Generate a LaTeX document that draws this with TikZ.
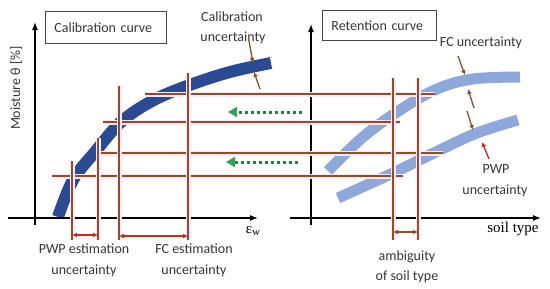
\documentclass[tikz,border=0pt]{standalone}
\usepackage{fontspec}
\setmainfont{Carlito}
\newfontfamily\seriffont{Liberation Serif}
\usetikzlibrary{arrows.meta}
\definecolor{navyc}{RGB}{44,74,148}
\definecolor{lightc}{RGB}{142,168,220}
\definecolor{brownc}{RGB}{140,80,40}
\definecolor{redc}{RGB}{195,45,25}
\definecolor{greenc}{RGB}{35,130,65}
\definecolor{greentip}{RGB}{55,160,90}
\definecolor{halo}{RGB}{255,230,248}
\definecolor{txt}{RGB}{55,55,55}
\definecolor{boxc}{RGB}{70,70,70}
\tikzset{
  lbl/.style={font=\fontsize{14}{16}\selectfont, text=txt, inner sep=0pt},
  serlbl/.style={font=\seriffont\fontsize{15}{17}\selectfont, text=black, inner sep=0pt},
  titlebox/.style={draw=boxc, line width=0.8pt, minimum height=32pt, font=\fontsize{14}{16}\selectfont, text=txt, align=left, inner xsep=9pt},
  axis/.style={black, line width=1.3pt, -{Latex[length=8pt,width=6pt]}},
  guide/.style={brownc, line width=1.2pt, preaction={draw=halo, line width=5pt}},
  dblarrow/.style={line width=1.3pt, {Latex[length=5pt,width=5pt]}-{Latex[length=5pt,width=5pt]}},
  uarrow/.style={line width=1.3pt, -{Latex[length=5pt,width=5pt]}},
  greenarrow/.style={greenc, line width=3pt, dash pattern=on 3pt off 3pt, -{Triangle[length=9pt,width=10pt,fill=greentip,color=greentip]}},
}
\begin{document}
\begin{tikzpicture}[x=1pt,y=-1pt]
\useasboundingbox (0,0) rectangle (550,289);

% ---------- coordinates ----------
\coordinate (lyb) at (35,225); \coordinate (lyt) at (35,22);
\coordinate (lxl) at (8,218);  \coordinate (lxr) at (258,218);
\coordinate (ryb) at (311,225); \coordinate (ryt) at (311,24);
\coordinate (rxl) at (290,218); \coordinate (rxr) at (541,218);

\coordinate (h1a) at (145,94);  \coordinate (h1b) at (435,94);
\coordinate (h2a) at (103,122); \coordinate (h2b) at (400,122);
\coordinate (h3a) at (97,153);  \coordinate (h3b) at (443,153);
\coordinate (h4a) at (52,176);  \coordinate (h4b) at (403,176);

\coordinate (v1a) at (72,161);  \coordinate (v1b) at (72,240);
\coordinate (v2a) at (98,138);  \coordinate (v2b) at (98,240);
\coordinate (v3a) at (119,86);  \coordinate (v3b) at (119,240);
\coordinate (v4a) at (188,73);  \coordinate (v4b) at (188,240);
\coordinate (v5a) at (393,78);  \coordinate (v5b) at (393,240);
\coordinate (v6a) at (418,78);  \coordinate (v6b) at (418,240);

% ---------- curves ----------
\draw[navyc, line width=12pt] plot[smooth, tension=0.6] coordinates
  {(58,217) (73,180) (95,152) (121,122) (152,101) (187,86) (230,72) (271,63)};
\draw[lightc, line width=11pt] plot[smooth, tension=0.6] coordinates
  {(328,171) (363,137) (400,110) (437,89) (473,79) (520,77)};
\draw[lightc, line width=11pt] plot[smooth, tension=0.6] coordinates
  {(338,198) (393,173) (440,150) (477,133) (518,120)};

% ---------- axes ----------
\draw[axis] (lyb) -- (lyt);
\draw[axis] (lxl) -- (lxr);
\draw[axis] (ryb) -- (ryt);
\draw[axis] (rxl) -- (rxr);

% ---------- guide lines ----------
\draw[guide] (h1a) -- (h1b);
\draw[guide] (h2a) -- (h2b);
\draw[guide] (h3a) -- (h3b);
\draw[guide] (h4a) -- (h4b);
\draw[guide] (v1a) -- (v1b);
\draw[guide] (v2a) -- (v2b);
\draw[guide] (v3a) -- (v3b);
\draw[guide] (v4a) -- (v4b);
\draw[guide] (v5a) -- (v5b);
\draw[guide] (v6a) -- (v6b);

% ---------- double arrows ----------
\coordinate (pa) at (72,235);  \coordinate (pb) at (98,235);
\coordinate (fa) at (119,236); \coordinate (fb) at (188,236);
\coordinate (aa) at (393,232); \coordinate (ab) at (418,232);
\draw[dblarrow, redc] (pa) -- (pb);
\draw[dblarrow, redc] (fa) -- (fb);
\draw[dblarrow, brownc] (aa) -- (ab);

% ---------- uncertainty arrows ----------
\coordinate (c1a) at (249,41);  \coordinate (c1b) at (253,63);
\coordinate (c2a) at (260,89);  \coordinate (c2b) at (254,72);
\coordinate (f1a) at (458,56);  \coordinate (f1b) at (465,75);
\coordinate (f2a) at (474,108); \coordinate (f2b) at (468,89);
\coordinate (f3a) at (467,111); \coordinate (f3b) at (473,130);
\coordinate (p1a) at (489,159); \coordinate (p1b) at (482,142);
\draw[uarrow, brownc] (c1a) -- (c1b);
\draw[uarrow, brownc] (c2a) -- (c2b);
\draw[uarrow, brownc] (f1a) -- (f1b);
\draw[uarrow, brownc] (f2a) -- (f2b);
\draw[uarrow, brownc] (f3a) -- (f3b);
\draw[uarrow, redc] (p1a) -- (p1b);

% ---------- green arrows ----------
\coordinate (g1a) at (302,112); \coordinate (g1b) at (228,112);
\coordinate (g2a) at (298,162); \coordinate (g2b) at (226,162);
\draw[greenarrow] (g1a) -- (g1b);
\draw[greenarrow] (g2a) -- (g2b);

% ---------- boxes ----------
\node[titlebox, anchor=north west, minimum width=121pt, text width=103pt] (calbox) at (45,11) {Calibration curve};
\node[titlebox, anchor=north west, minimum width=114pt, minimum height=30pt, text width=96pt] (retbox) at (322,10) {Retention curve};

% ---------- labels ----------
\node[lbl] (cal1) at (232,17) {Calibration};
\node[lbl] (cal2) at (233,38) {uncertainty};
\node[lbl] (fcu) at (481,43) {FC uncertainty};
\node[lbl] (pwp1) at (496,169) {PWP};
\node[lbl] (pwp2) at (495,191) {uncertainty};
\node[lbl] (pe1) at (84,249) {PWP estimation};
\node[lbl] (pe2) at (84,271) {uncertainty};
\node[lbl] (fe1) at (194,249) {FC estimation};
\node[lbl] (fe2) at (194,271) {uncertainty};
\node[lbl] (am1) at (407,257) {ambiguity};
\node[lbl] (am2) at (407,277) {of soil type};
\node[serlbl] (soil) at (513,229) {soil type};
\node[serlbl] (eps) at (253,231) {ε{\fontsize{11}{12}\selectfont\raisebox{-1.5pt}{w}}};
\node[lbl, rotate=90] (moist) at (16,88) {Moisture θ [\%]};
\end{tikzpicture}
\end{document}
